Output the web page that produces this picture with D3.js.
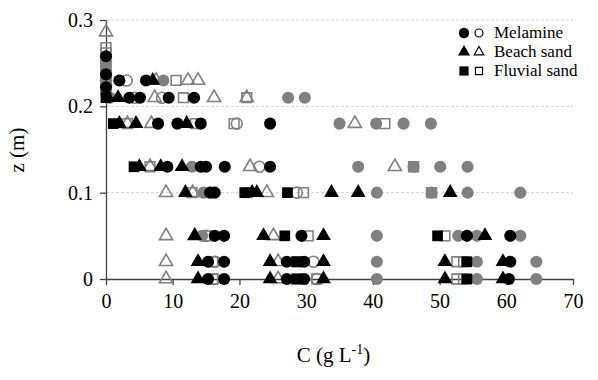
<!DOCTYPE html>
<html>
<head>
<meta charset="utf-8">
<script src="https://cdn.jsdelivr.net/npm/d3@7"></script>
<style>
  body { margin: 0; background: #fff; }
  svg text { font-family: "Liberation Serif", "Times New Roman", serif; }
</style>
</head>
<body>
<div id="chart"></div>
<script>
// data points [C (g/L), z (m)] per series
var melBlack = [
  [0, 0.258], [0, 0.237], [0, 0.222], [2.0, 0.23], [6.0, 0.23],
  [3.5, 0.21], [5.1, 0.21], [9.4, 0.21], [13.2, 0.21],
  [7.8, 0.18], [10.7, 0.18], [14.2, 0.18], [24.6, 0.18],
  [9.2, 0.13], [14.2, 0.13], [15.0, 0.13], [17.8, 0.13], [24.6, 0.13],
  [15.6, 0.1], [16.3, 0.1],
  [16.3, 0.05], [17.7, 0.05], [29.3, 0.05], [54.1, 0.05], [60.6, 0.05],
  [15.3, 0.02], [17.7, 0.02], [27.1, 0.02], [29.7, 0.02], [60.6, 0.02],
  [15.3, 0], [17.7, 0], [27.1, 0], [29.7, 0], [60.4, 0]
];
var melOpen = [
  [0, 0.23], [3.1, 0.23],
  [4.3, 0.21], [8.4, 0.21],
  [19.6, 0.18],
  [23.0, 0.13],
  [28.6, 0.1],
  [15.0, 0.05],
  [16.3, 0.02], [31.1, 0.02],
  [16.3, 0], [31.6, 0]
];
var melGrey = [
  [0, 0.252], [0, 0.247], [0, 0.242], [0, 0.232], [0, 0.226], [0, 0.216],
  [8.6, 0.23],
  [0.6, 0.21], [27.3, 0.21], [29.8, 0.21],
  [35.0, 0.18], [40.5, 0.18], [44.6, 0.18], [48.7, 0.18],
  [12.9, 0.13], [37.8, 0.13], [46.1, 0.13], [50.1, 0.13], [54.2, 0.13],
  [14.6, 0.1], [40.6, 0.1], [48.8, 0.1], [54.2, 0.1], [62.1, 0.1],
  [14.4, 0.05], [40.6, 0.05], [52.8, 0.05], [55.6, 0.05], [62.1, 0.05],
  [40.6, 0.02], [55.6, 0.02], [64.5, 0.02],
  [40.6, 0], [55.6, 0], [64.5, 0]
];
var beachBlack = [
  [7.0, 0.23],
  [1.8, 0.21], [0.3, 0.21],
  [2.0, 0.18], [4.5, 0.18], [12.1, 0.18],
  [5.0, 0.13], [8.2, 0.13], [11.4, 0.13],
  [11.9, 0.1], [21.9, 0.1], [22.6, 0.1], [33.8, 0.1], [37.8, 0.1], [51.6, 0.1],
  [13.3, 0.05], [23.6, 0.05], [32.6, 0.05], [56.8, 0.05],
  [13.8, 0.02], [24.6, 0.02], [32.6, 0.02], [50.8, 0.02], [59.5, 0.02],
  [13.8, 0], [24.6, 0], [32.6, 0], [50.8, 0], [59.5, 0]
];
var beachOpen = [
  [0, 0.286],
  [7.5, 0.23], [12.3, 0.23], [13.8, 0.23],
  [7.3, 0.21], [16.2, 0.21], [21.1, 0.21],
  [3.2, 0.18], [6.8, 0.18], [37.3, 0.18],
  [6.6, 0.13], [21.6, 0.13], [43.3, 0.13],
  [9.0, 0.1], [13.0, 0.1], [24.1, 0.1],
  [9.0, 0.05], [13.3, 0.05], [25.1, 0.05],
  [9.0, 0.02], [25.8, 0.02],
  [9.0, 0], [25.8, 0]
];
var fluvBlack = [
  [0, 0.21],
  [1.1, 0.18],
  [4.2, 0.13],
  [20.8, 0.1], [27.2, 0.1],
  [26.8, 0.05], [49.7, 0.05],
  [28.6, 0.02], [54.1, 0.02],
  [28.6, 0], [54.1, 0]
];
var fluvOpen = [
  [0, 0.268], [0, 0.262],
  [10.5, 0.23],
  [11.6, 0.21], [21.1, 0.21],
  [3.2, 0.18], [13.4, 0.18], [19.2, 0.18], [41.8, 0.18],
  [6.6, 0.13], [46.1, 0.13],
  [12.9, 0.1], [21.2, 0.1], [29.6, 0.1], [48.8, 0.1],
  [15.5, 0.05], [30.3, 0.05], [50.8, 0.05],
  [16.0, 0.02], [28.6, 0.02], [52.6, 0.02], [53.6, 0.02],
  [16.0, 0], [28.6, 0], [31.6, 0], [52.6, 0], [53.6, 0]
];
var xTicks = [0, 10, 20, 30, 40, 50, 60, 70];
var yTicks = [0, 0.1, 0.2, 0.3];
var legendLabels = ["Melamine", "Beach sand", "Fluvial sand"];

var grey = "#808080";
var serif = "'Liberation Serif', 'Times New Roman', serif";

// drawing order: grey ones first, black on top
var series = [
  { pts: melGrey, shape: d3.symbolCircle, size: 115, fill: grey, stroke: "none" },
  { pts: melOpen, shape: d3.symbolCircle, size: 95, fill: "none", stroke: grey },
  { pts: beachOpen, shape: d3.symbolTriangle, size: 75, fill: "none", stroke: grey },
  { pts: fluvOpen, shape: d3.symbolSquare, size: 95, fill: "none", stroke: grey },
  { pts: fluvBlack, shape: d3.symbolSquare, size: 115, fill: "#000", stroke: "none" },
  { pts: beachBlack, shape: d3.symbolTriangle, size: 95, fill: "#000", stroke: "none" },
  { pts: melBlack, shape: d3.symbolCircle, size: 115, fill: "#000", stroke: "none" }
];

var margin = { top: 20, right: 25, bottom: 101, left: 106 },
  width = 598 - margin.left - margin.right,
  height = 380 - margin.top - margin.bottom;

var svg = d3.select("#chart")
  .append("svg")
  .attr("width", 598)
  .attr("height", 380);

var g = svg.append("g")
  .attr("transform", "translate(" + margin.left + "," + margin.top + ")");

var x = d3.scaleLinear().domain([0, 70]).range([0, width]);
var y = d3.scaleLinear().domain([0, 0.3]).range([height, 0]);

// dashed grid lines
g.append("g")
  .selectAll("line")
  .data(yTicks.filter(d => d > 0))
  .enter()
  .append("line")
  .attr("x1", 0)
  .attr("x2", width)
  .attr("y1", d => y(d))
  .attr("y2", d => y(d))
  .attr("stroke", "#d0d0d0")
  .attr("stroke-width", 1)
  .attr("stroke-dasharray", "3,2");

// axes
var xAxis = g.append("g")
  .attr("transform", "translate(0," + height + ")")
  .call(d3.axisBottom(x).tickValues(xTicks).tickSize(6).tickSizeOuter(0).tickPadding(9));

var yAxis = g.append("g")
  .call(d3.axisLeft(y).tickValues(yTicks).tickSize(6).tickSizeOuter(0).tickPadding(7)
    .tickFormat(d => d === 0 ? "0" : d3.format(".1f")(d)));

[xAxis, yAxis].forEach(a => {
  a.attr("font-family", serif).attr("font-size", 20);
  a.select(".domain").attr("stroke", "#404040").attr("stroke-width", 1.3);
  a.selectAll(".tick line").attr("stroke", "#404040").attr("stroke-width", 1.3);
  a.selectAll(".tick text").attr("fill", "#000");
});

// markers
series.forEach(s => {
  g.append("g")
    .selectAll("path")
    .data(s.pts)
    .enter()
    .append("path")
    .attr("d", d3.symbol().type(s.shape).size(s.size))
    .attr("transform", d => "translate(" + x(d[0]) + "," + y(d[1]) + ")")
    .attr("fill", s.fill)
    .attr("stroke", s.stroke)
    .attr("stroke-width", 1.6);
});

// legend
var legendShapes = [d3.symbolCircle, d3.symbolTriangle, d3.symbolSquare];
var legend = svg.append("g").attr("transform", "translate(464,33)");
legendLabels.forEach((lab, i) => {
  var row = legend.append("g").attr("transform", "translate(0," + (i * 19) + ")");
  row.append("path")
    .attr("d", d3.symbol().type(legendShapes[i]).size(i === 1 ? 65 : 85))
    .attr("fill", "#000");
  row.append("path")
    .attr("transform", "translate(15,0)")
    .attr("d", d3.symbol().type(legendShapes[i]).size(i === 1 ? 40 : 50))
    .attr("fill", "none")
    .attr("stroke", "#000")
    .attr("stroke-width", 1.2);
  row.append("text")
    .attr("x", 30)
    .attr("y", 5)
    .style("font-size", "17px")
    .text(lab);
});

// axis titles
var xTitle = svg.append("text")
  .attr("x", margin.left + width / 2 - 6)
  .attr("y", 362)
  .attr("text-anchor", "middle")
  .style("font-size", "21px");
xTitle.append("tspan").text("C (g L");
xTitle.append("tspan").attr("dy", -8).style("font-size", "14px").text("-1");
xTitle.append("tspan").attr("dy", 8).text(")");

svg.append("text")
  .attr("transform", "translate(24,150) rotate(-90)")
  .attr("text-anchor", "middle")
  .style("font-size", "21px")
  .text("z (m)");
</script>
</body>
</html>
